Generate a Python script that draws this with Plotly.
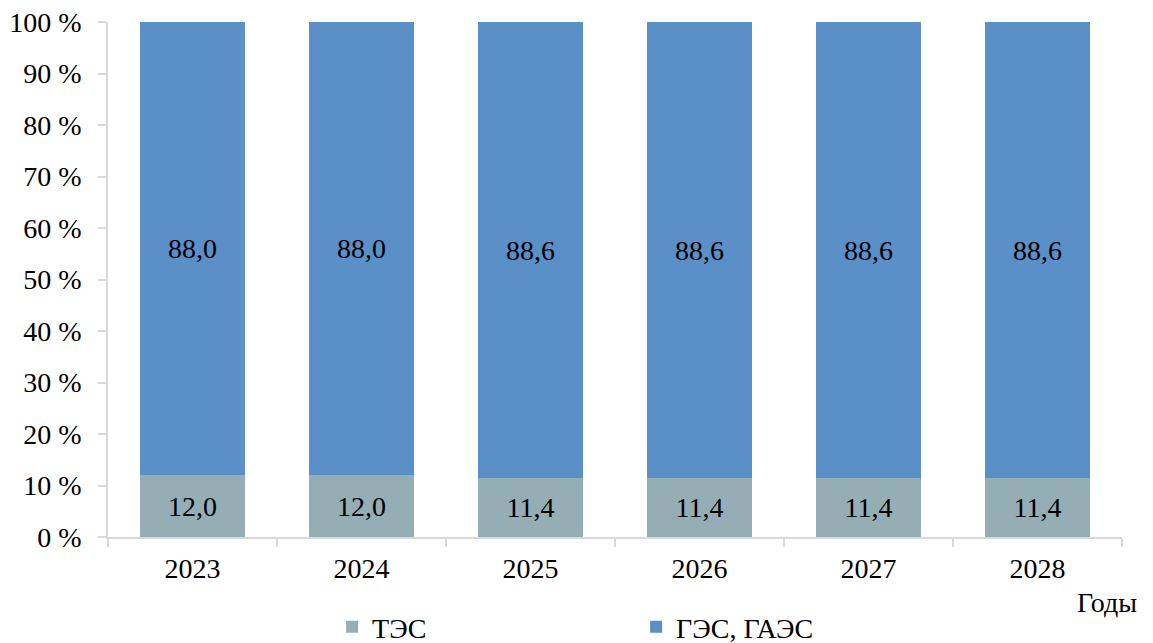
import plotly.graph_objects as go

years = ["2023", "2024", "2025", "2026", "2027", "2028"]
tes = [12.0, 12.0, 11.4, 11.4, 11.4, 11.4]
ges = [88.0, 88.0, 88.6, 88.6, 88.6, 88.6]
y_ticks = [0, 10, 20, 30, 40, 50, 60, 70, 80, 90, 100]
y_tick_text = [f"{v} %" for v in y_ticks]

def fmt(v):
    return f"{v:.1f}".replace(".", ",")

FONT = "Liberation Serif"
AXIS_COLOR = "#D9D9D9"
FS = 28

fig = go.Figure()
fig.add_trace(go.Bar(
    x=years, y=tes, name="ТЭС",
    marker=dict(color="#95ADB5", line=dict(width=0)),
    text=[fmt(v) for v in tes], textposition="inside",
    insidetextanchor="middle",
    textfont=dict(family=FONT, size=FS, color="black"),
    hoverinfo="skip",
))
fig.add_trace(go.Bar(
    x=years, y=ges, name="ГЭС, ГАЭС",
    marker=dict(color="#5B8FC8", line=dict(width=0)),
    text=[fmt(v) for v in ges], textposition="inside",
    insidetextanchor="middle",
    textfont=dict(family=FONT, size=FS, color="black"),
    hoverinfo="skip",
))

fig.update_layout(
    width=1153, height=643,
    barmode="stack", bargap=0.38,
    plot_bgcolor="white", paper_bgcolor="white",
    margin=dict(l=108, r=31, t=22, b=106, autoexpand=False),
    font=dict(family=FONT, size=FS, color="black"),
    uniformtext=dict(mode="show", minsize=10),
    showlegend=True,
    legend=dict(
        orientation="h", x=0.221, xanchor="left",
        y=-0.175, yanchor="middle", traceorder="normal",
        entrywidth=259, entrywidthmode="pixels",
        font=dict(family=FONT, size=FS, color="black"),
        bgcolor="rgba(0,0,0,0)",
    ),
    annotations=[dict(
        text="Годы", xref="paper", yref="paper",
        x=1.017, y=-0.128, xanchor="right", yanchor="middle",
        showarrow=False, font=dict(family=FONT, size=FS, color="black"),
    )],
)

fig.update_xaxes(
    type="category", showline=True, linecolor=AXIS_COLOR, linewidth=1.5,
    ticks="outside", tickson="boundaries", ticklen=8, tickcolor=AXIS_COLOR,
    tickwidth=1.5, showgrid=False, ticklabelstandoff=6,
    tickfont=dict(family=FONT, size=FS, color="black"),
)
fig.update_yaxes(
    range=[0, 100], tickvals=y_ticks, ticktext=y_tick_text,
    showline=True, linecolor=AXIS_COLOR, linewidth=1.5,
    ticks="outside", ticklen=8, tickcolor=AXIS_COLOR, tickwidth=1.5,
    showgrid=False, zeroline=False, ticklabelstandoff=11,
    tickfont=dict(family=FONT, size=FS, color="black"),
)

fig.write_html(
    "out.html",
    config={"displayModeBar": False},
    post_script="document.body.style.margin='0';document.body.style.overflow='hidden';",
)
